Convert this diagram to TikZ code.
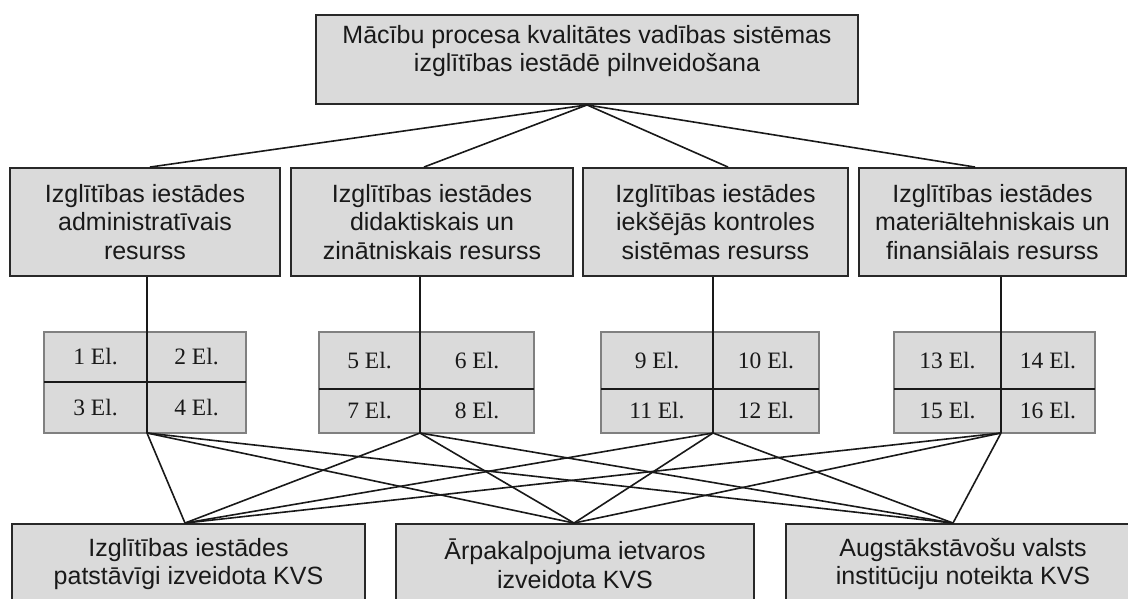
\documentclass[tikz,border=0pt]{standalone}
\usepackage{fontspec}
\setmainfont{Liberation Sans}
\newfontfamily\serifel{Liberation Serif}
\usetikzlibrary{calc}
\definecolor{boxgray}{RGB}{218,218,218}
\definecolor{edgedark}{RGB}{40,40,40}
\definecolor{gridedge}{RGB}{128,128,128}
\definecolor{linedark}{RGB}{25,25,25}
\definecolor{textdark}{RGB}{25,25,25}
\tikzset{
  box/.style={draw=edgedark, line width=1.9pt, fill=boxgray, inner sep=0pt,
    align=center, text=textdark, font=\fontsize{25}{28.5}\selectfont},
  txt/.style={inner sep=0pt, align=center, text=textdark, font=\fontsize{25}{28.5}\selectfont},
  cell/.style={fill=boxgray, inner sep=0pt, text=textdark, font=\serifel\fontsize{23.5}{26}\selectfont},
  gridframe/.style={draw=gridedge, line width=2.8pt},
  inner/.style={draw=linedark, line width=1.6pt},
  conn/.style={draw=linedark, line width=1.6pt}
}
\newcommand\ElGrid[9]{%
  \node[cell, minimum width={#3-#2}, minimum height={#5-332}] (#1c1) at ({(#2+#3)/2},{(332+#5)/2}) {#6};
  \node[cell, minimum width={#4-#3}, minimum height={#5-332}] (#1c2) at ({(#3+#4)/2},{(332+#5)/2}) {#7};
  \node[cell, minimum width={#3-#2}, minimum height={433-#5}] (#1c3) at ({(#2+#3)/2},{(433+#5)/2}) {#8};
  \node[cell, minimum width={#4-#3}, minimum height={433-#5}] (#1c4) at ({(#3+#4)/2},{(433+#5)/2}) {#9};
  \draw[gridframe] (#2,332) rectangle (#4,433);
  \draw[inner] (#2,#5) -- (#4,#5);
  \coordinate (#1bot) at (#3,433);
}
\begin{document}
\begin{tikzpicture}[x=1pt,y=-1pt]
\useasboundingbox (0,0) rectangle (1128,598);
\clip (0,0) rectangle (1128,598);
\fill[white] (0,0) rectangle (1128,598);

% top
\node[box, minimum width=542, minimum height=89] (top) at (587,59.5) {};
\node[txt] (toptext) at (587,51) {Mācību procesa kvalitātes vadības sistēmas\\izglītības iestādē pilnveidošana};

% second row
\node[box, minimum width=270, minimum height=108] (r1) at (145,222) {Izglītības iestādes\\administratīvais\\resurss};
\node[box, minimum width=282, minimum height=108] (r2) at (432,222) {Izglītības iestādes\\didaktiskais un\\zinātniskais resurss};
\node[box, minimum width=265, minimum height=108] (r3) at (715.5,222) {Izglītības iestādes\\iekšējās kontroles\\sistēmas resurss};
\node[box, minimum width=267, minimum height=108] (r4) at (992.5,222) {Izglītības iestādes\\materiāltehniskais un\\finansiālais resurss};

\draw[conn] (top.south) -- ($(r1.north)+(5,0)$);
\draw[conn] (top.south) -- ($(r2.north)+(-8,0)$);
\draw[conn] (top.south) -- ($(r3.north)+(12.5,0)$);
\draw[conn] (top.south) -- ($(r4.north)+(-17.5,0)$);

% grids
\ElGrid{g1}{44}{147}{246}{382}{1 El.}{2 El.}{3 El.}{4 El.}
\ElGrid{g2}{319}{420}{534}{389}{5 El.}{6 El.}{7 El.}{8 El.}
\ElGrid{g3}{601}{713}{819}{389}{9 El.}{10 El.}{11 El.}{12 El.}
\ElGrid{g4}{894}{1001}{1095}{389}{13 El.}{14 El.}{15 El.}{16 El.}

\draw[conn] (r1.south -| g1bot) -- (g1bot);
\draw[conn] (r2.south -| g2bot) -- (g2bot);
\draw[conn] (r3.south -| g3bot) -- (g3bot);
\draw[conn] (r4.south -| g4bot) -- (g4bot);

% bottom
\node[box, minimum width=353, minimum height=80] (bA) at (188.5,564) {Izglītības iestādes\\patstāvīgi izveidota KVS};
\node[box, minimum width=358, minimum height=80] (bB) at (575,564) {Ārpakalpojuma ietvaros\\izveidota KVS};
\node[box, minimum width=354, minimum height=80] (bC) at (963,564) {Augstākstāvošu valsts\\institūciju noteikta KVS};

\foreach \g in {g1,g2,g3,g4}
  \foreach \b/\off in {bA/-3.5,bB/-1,bC/-10}
    \draw[conn] (\g bot) -- ($(\b.north)+(\off,0)$);
\end{tikzpicture}
\end{document}
